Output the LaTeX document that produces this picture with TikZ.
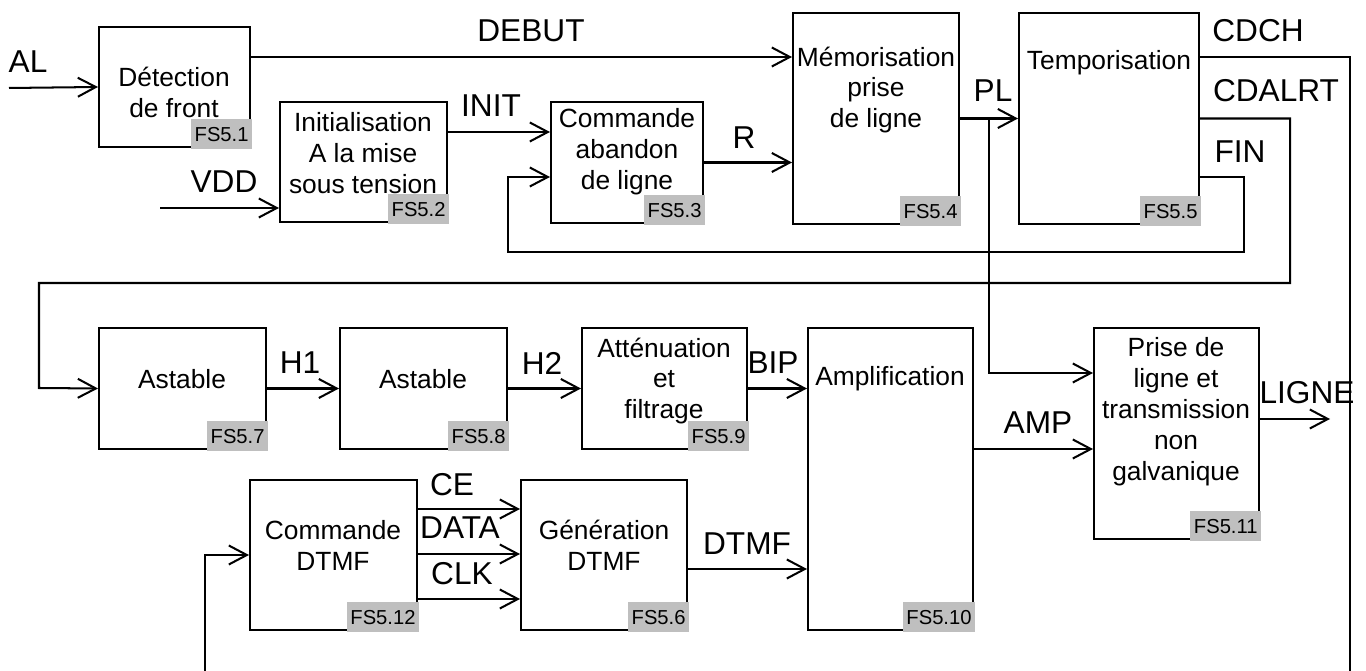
\documentclass[tikz,border=0pt]{standalone}
\usepackage{fontspec}
\setmainfont{Liberation Sans}
\usetikzlibrary{arrows.meta,fit,positioning,calc}

\begin{document}
\begin{tikzpicture}
[x=0.02cm,y=-0.02cm,
bloc/.style={draw,line width=1.15pt,inner sep=0pt},
txt/.style={align=center,font=\fontsize{15}{17.6}\selectfont,inner sep=0pt},
sig/.style={font=\fontsize{18}{20}\selectfont,inner sep=0pt},
tag/.style={fill=gray!50,font=\fontsize{11.5}{13}\selectfont,inner xsep=0.07cm,inner ysep=0pt,
  minimum height=0.6cm,outer sep=0pt,anchor=south east},
fl/.style={line width=1.15pt,-{Straight Barb[length=3.6mm,width=3.8mm]}},
fil/.style={line width=1.15pt}]
\useasboundingbox (0,0) rectangle (1366,671);

% blocs
\node[bloc,fit={(99,27) (250,147)}] (fs1) {};
\node[bloc,fit={(280,102) (447,222)}] (fs2) {};
\node[bloc,fit={(551,102) (703,223)}] (fs3) {};
\node[bloc,fit={(793,13) (959,224)}] (fs4) {};
\node[bloc,fit={(1019,13) (1199,224)}] (fs5) {};
\node[bloc,fit={(99,328) (266,449)}] (fs7) {};
\node[bloc,fit={(340,328) (507,449)}] (fs8) {};
\node[bloc,fit={(582,328) (747,449)}] (fs9) {};
\node[bloc,fit={(808,328) (973,630)}] (fs10) {};
\node[bloc,fit={(1094,328) (1259,539)}] (fs11) {};
\node[bloc,fit={(250,480) (417,630)}] (fs12) {};
\node[bloc,fit={(521,480) (687,630)}] (fs6) {};

\node[txt] (d1) at (174,92) {D\'etection\\de front};
\node[txt] (d2) at (363,153) {Initialisation\\A la mise\\sous tension};
\node[txt] (d3) at (627,152) {Commande\\abandon\\de ligne};
\node[txt] (d4) at (876,90) {M\'emorisation\\prise\\de ligne};
\node[txt] (d5) at (1109,63) {Temporisation};
\node[txt] (d7) at (182,379) {Astable};
\node[txt] (d8) at (423,379) {Astable};
\node[txt] (d9) at (664,381) {Att\'enuation\\et\\filtrage};
\node[txt] (d10) at (890,379) {Amplification};
\node[txt] (d11) at (1176,412) {Prise de\\ligne et\\transmission\\non\\galvanique};
\node[txt] (d12) at (333,545) {Commande\\DTMF};
\node[txt] (d6) at (604,545) {G\'en\'eration\\DTMF};

% etiquettes FS
\foreach \b/\t in {fs1/FS5.1,fs2/FS5.2,fs3/FS5.3,fs4/FS5.4,fs5/FS5.5,fs6/FS5.6,fs7/FS5.7,
  fs8/FS5.8,fs9/FS5.9,fs10/FS5.10,fs11/FS5.11,fs12/FS5.12}
  \node[tag] (t\b) at ([xshift=0.6pt,yshift=-0.6pt]\b.south east) {\t};

% signaux
\coordinate (al) at (9,88);
\draw[fl] (al) -- (fs1.west);
\coordinate (vdd) at (160,208);
\draw[fl] (vdd) -- (fs2.west |- vdd);
\draw[fl] (fs1.east |- 0,57) -- (fs4.west |- 0,57);
\draw[fl] (fs2.east |- 0,132) -- (fs3.west |- 0,132);
\draw[fl] (fs3.east) -- (fs4.west |- fs3.east);
\draw[fl] (fs4.east) -- (fs5.west);
\coordinate (pl) at ($(fs4.east)!0.5!(fs5.west)$);
\draw[fl] (pl) |- (fs11.west |- 0,373);
% retours
\draw[fl] (fs5.east |- 0,177) -| (1244,252) -| (508,177) -- (fs3.west |- 0,177);
\draw[fl] (fs5.east) -| (1290,283) -| (39,388) -- (fs7.west);
\draw[fil] (fs5.east |- 0,57) -| (1350,671);
\draw[fl] (205,671) |- (fs12.west);

\draw[fl] (fs7.east) -- (fs8.west);
\draw[fl] (fs8.east) -- (fs9.west);
\draw[fl] (fs9.east) -- (fs10.west |- fs9.east);
\draw[fl] (fs10.east |- 0,449) -- (fs11.west |- 0,449);
\coordinate (ligne) at (1330,419);
\draw[fl] (fs11.east |- ligne) -- (ligne);
\foreach \y in {509,554,599}
  \draw[fl] (fs12.east |- 0,\y) -- (fs6.west |- 0,\y);
\draw[fl] (fs6.east |- 0,569) -- (fs10.west |- 0,569);

\node[sig] (lal) at (28,62) {AL};
\node[sig] (lvdd) at (224,182) {VDD};
\node[sig] (ldebut) at (531,31) {DEBUT};
\node[sig] (linit) at (491,106) {INIT};
\node[sig] (lr) at (744,138) {R};
\node[sig] (lpl) at (993,91) {PL};
\node[sig] (lcdch) at (1258,31) {CDCH};
\node[sig] (lcdalrt) at (1276,91) {CDALRT};
\node[sig] (lfin) at (1240,152) {FIN};
\node[sig] (lh1) at (300,363) {H1};
\node[sig] (lh2) at (542,363) {H2};
\node[sig] (lbip) at (773,363) {BIP};
\node[sig] (lamp) at (1038,423) {AMP};
\node[sig] (lligne) at (1307,393) {LIGNE};
\node[sig] (lce) at (452,485) {CE};
\node[sig] (ldata) at (460,528) {DATA};
\node[sig] (lclk) at (462,574) {CLK};
\node[sig] (ldtmf) at (747,544) {DTMF};
\end{tikzpicture}
\end{document}
